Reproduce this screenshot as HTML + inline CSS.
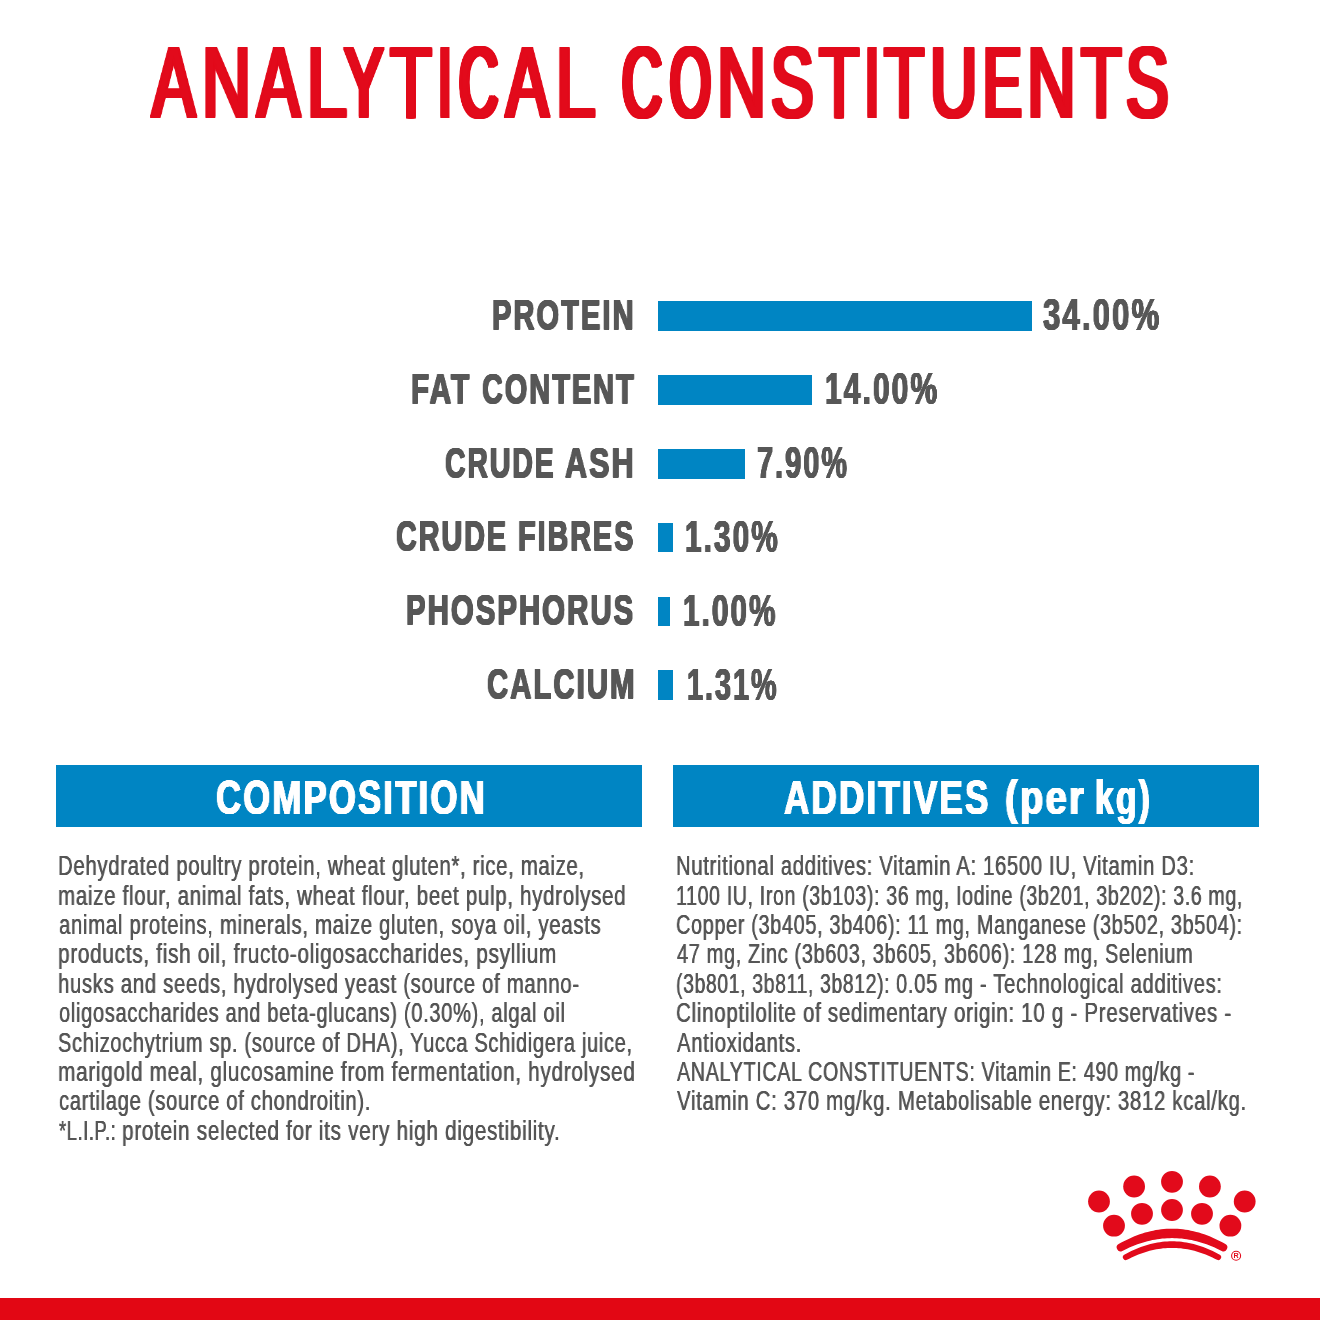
<!DOCTYPE html>
<html><head><meta charset="utf-8"><title>Analytical Constituents</title>
<style>
html,body{margin:0;padding:0;background:#fff;}
body{width:1320px;height:1320px;position:relative;overflow:hidden;font-family:"Liberation Sans",sans-serif;}
.x{position:absolute;will-change:transform;white-space:pre;line-height:1em;transform-origin:0 0;font-family:"Liberation Sans",sans-serif;}
.r{position:absolute;}
</style></head><body>
<div class="r" style="left:658px;top:301.4px;width:373.7px;height:29.5px;background:#0085c3"></div>
<div class="r" style="left:658px;top:375.1px;width:154.0px;height:29.5px;background:#0085c3"></div>
<div class="r" style="left:658px;top:449.2px;width:86.7px;height:29.5px;background:#0085c3"></div>
<div class="r" style="left:658px;top:522.6px;width:15.0px;height:29.5px;background:#0085c3"></div>
<div class="r" style="left:658px;top:596.5px;width:12.0px;height:29.5px;background:#0085c3"></div>
<div class="r" style="left:658px;top:670.2px;width:15.0px;height:29.5px;background:#0085c3"></div>
<div class="r" style="left:56px;top:764.7px;width:585.5px;height:62.8px;background:#0085c3"></div>
<div class="r" style="left:673px;top:764.7px;width:586px;height:62.8px;background:#0085c3"></div>
<div class="r" style="left:0;top:1298px;width:1320px;height:22px;background:#e20714"></div>
<h1 style="margin:0;font:inherit"><span class="x" style="left:151.95px;top:32.79px;font-size:99.711px;font-weight:400;color:#e20a1b;text-shadow:-3.14px -1.4px 0 #e20a1b,-3.14px 0px 0 #e20a1b,-3.14px 1.4px 0 #e20a1b,-1.57px -1.4px 0 #e20a1b,-1.57px 0px 0 #e20a1b,-1.57px 1.4px 0 #e20a1b,0px -1.4px 0 #e20a1b,0px 1.4px 0 #e20a1b,1.57px -1.4px 0 #e20a1b,1.57px 0px 0 #e20a1b,1.57px 1.4px 0 #e20a1b,3.14px -1.4px 0 #e20a1b,3.14px 0px 0 #e20a1b,3.14px 1.4px 0 #e20a1b;transform:scaleX(0.6507)">A</span><span class="x" style="left:201.90px;top:32.79px;font-size:99.711px;font-weight:400;color:#e20a1b;text-shadow:-2.9px -1.4px 0 #e20a1b,-2.9px 0px 0 #e20a1b,-2.9px 1.4px 0 #e20a1b,-1.45px -1.4px 0 #e20a1b,-1.45px 0px 0 #e20a1b,-1.45px 1.4px 0 #e20a1b,0px -1.4px 0 #e20a1b,0px 1.4px 0 #e20a1b,1.45px -1.4px 0 #e20a1b,1.45px 0px 0 #e20a1b,1.45px 1.4px 0 #e20a1b,2.9px -1.4px 0 #e20a1b,2.9px 0px 0 #e20a1b,2.9px 1.4px 0 #e20a1b;transform:scaleX(0.6806)">N</span><span class="x" style="left:257.24px;top:32.79px;font-size:99.711px;font-weight:400;color:#e20a1b;text-shadow:-3.19px -1.4px 0 #e20a1b,-3.19px 0px 0 #e20a1b,-3.19px 1.4px 0 #e20a1b,-1.595px -1.4px 0 #e20a1b,-1.595px 0px 0 #e20a1b,-1.595px 1.4px 0 #e20a1b,0px -1.4px 0 #e20a1b,0px 1.4px 0 #e20a1b,1.595px -1.4px 0 #e20a1b,1.595px 0px 0 #e20a1b,1.595px 1.4px 0 #e20a1b,3.19px -1.4px 0 #e20a1b,3.19px 0px 0 #e20a1b,3.19px 1.4px 0 #e20a1b;transform:scaleX(0.6466)">A</span><span class="x" style="left:306.25px;top:32.79px;font-size:99.711px;font-weight:400;color:#e20a1b;text-shadow:-2.21px -1.4px 0 #e20a1b,-2.21px 0px 0 #e20a1b,-2.21px 1.4px 0 #e20a1b,-1.105px -1.4px 0 #e20a1b,-1.105px 0px 0 #e20a1b,-1.105px 1.4px 0 #e20a1b,0px -1.4px 0 #e20a1b,0px 1.4px 0 #e20a1b,1.105px -1.4px 0 #e20a1b,1.105px 0px 0 #e20a1b,1.105px 1.4px 0 #e20a1b,2.21px -1.4px 0 #e20a1b,2.21px 0px 0 #e20a1b,2.21px 1.4px 0 #e20a1b;transform:scaleX(0.7500)">L</span><span class="x" style="left:343.69px;top:32.79px;font-size:99.711px;font-weight:400;color:#e20a1b;text-shadow:-3.86px -1.4px 0 #e20a1b,-3.86px 0px 0 #e20a1b,-3.86px 1.4px 0 #e20a1b,-1.93px -1.4px 0 #e20a1b,-1.93px 0px 0 #e20a1b,-1.93px 1.4px 0 #e20a1b,0px -1.4px 0 #e20a1b,0px 1.4px 0 #e20a1b,1.93px -1.4px 0 #e20a1b,1.93px 0px 0 #e20a1b,1.93px 1.4px 0 #e20a1b,3.86px -1.4px 0 #e20a1b,3.86px 0px 0 #e20a1b,3.86px 1.4px 0 #e20a1b;transform:scaleX(0.5957)">Y</span><span class="x" style="left:389.89px;top:32.79px;font-size:99.711px;font-weight:400;color:#e20a1b;text-shadow:-2.83px -1.4px 0 #e20a1b,-2.83px 0px 0 #e20a1b,-2.83px 1.4px 0 #e20a1b,-1.415px -1.4px 0 #e20a1b,-1.415px 0px 0 #e20a1b,-1.415px 1.4px 0 #e20a1b,0px -1.4px 0 #e20a1b,0px 1.4px 0 #e20a1b,1.415px -1.4px 0 #e20a1b,1.415px 0px 0 #e20a1b,1.415px 1.4px 0 #e20a1b,2.83px -1.4px 0 #e20a1b,2.83px 0px 0 #e20a1b,2.83px 1.4px 0 #e20a1b;transform:scaleX(0.6873)">T</span><span class="x" style="left:438.00px;top:32.79px;font-size:99.711px;font-weight:400;color:#e20a1b;text-shadow:-4.55px -1.4px 0 #e20a1b,-4.55px 0px 0 #e20a1b,-4.55px 1.4px 0 #e20a1b,-3.03333px -1.4px 0 #e20a1b,-3.03333px 0px 0 #e20a1b,-3.03333px 1.4px 0 #e20a1b,-1.51667px -1.4px 0 #e20a1b,-1.51667px 0px 0 #e20a1b,-1.51667px 1.4px 0 #e20a1b,0px -1.4px 0 #e20a1b,0px 1.4px 0 #e20a1b,1.51667px -1.4px 0 #e20a1b,1.51667px 0px 0 #e20a1b,1.51667px 1.4px 0 #e20a1b,3.03333px -1.4px 0 #e20a1b,3.03333px 0px 0 #e20a1b,3.03333px 1.4px 0 #e20a1b,4.55px -1.4px 0 #e20a1b,4.55px 0px 0 #e20a1b,4.55px 1.4px 0 #e20a1b;transform:scaleX(0.5000)">I</span><span class="x" style="left:459.20px;top:32.79px;font-size:99.711px;font-weight:400;color:#e20a1b;text-shadow:-4.83px -1.4px 0 #e20a1b,-4.83px 0px 0 #e20a1b,-4.83px 1.4px 0 #e20a1b,-3.22px -1.4px 0 #e20a1b,-3.22px 0px 0 #e20a1b,-3.22px 1.4px 0 #e20a1b,-1.61px -1.4px 0 #e20a1b,-1.61px 0px 0 #e20a1b,-1.61px 1.4px 0 #e20a1b,0px -1.4px 0 #e20a1b,0px 1.4px 0 #e20a1b,1.61px -1.4px 0 #e20a1b,1.61px 0px 0 #e20a1b,1.61px 1.4px 0 #e20a1b,3.22px -1.4px 0 #e20a1b,3.22px 0px 0 #e20a1b,3.22px 1.4px 0 #e20a1b,4.83px -1.4px 0 #e20a1b,4.83px 0px 0 #e20a1b,4.83px 1.4px 0 #e20a1b;transform:scaleX(0.5425)">C</span><span class="x" style="left:506.12px;top:32.79px;font-size:99.711px;font-weight:400;color:#e20a1b;text-shadow:-3.41px -1.4px 0 #e20a1b,-3.41px 0px 0 #e20a1b,-3.41px 1.4px 0 #e20a1b,-1.705px -1.4px 0 #e20a1b,-1.705px 0px 0 #e20a1b,-1.705px 1.4px 0 #e20a1b,0px -1.4px 0 #e20a1b,0px 1.4px 0 #e20a1b,1.705px -1.4px 0 #e20a1b,1.705px 0px 0 #e20a1b,1.705px 1.4px 0 #e20a1b,3.41px -1.4px 0 #e20a1b,3.41px 0px 0 #e20a1b,3.41px 1.4px 0 #e20a1b;transform:scaleX(0.6384)">A</span><span class="x" style="left:554.60px;top:32.79px;font-size:99.711px;font-weight:400;color:#e20a1b;text-shadow:-2.3px -1.4px 0 #e20a1b,-2.3px 0px 0 #e20a1b,-2.3px 1.4px 0 #e20a1b,-1.15px -1.4px 0 #e20a1b,-1.15px 0px 0 #e20a1b,-1.15px 1.4px 0 #e20a1b,0px -1.4px 0 #e20a1b,0px 1.4px 0 #e20a1b,1.15px -1.4px 0 #e20a1b,1.15px 0px 0 #e20a1b,1.15px 1.4px 0 #e20a1b,2.3px -1.4px 0 #e20a1b,2.3px 0px 0 #e20a1b,2.3px 1.4px 0 #e20a1b;transform:scaleX(0.7400)">L</span> <span class="x" style="left:621.70px;top:32.79px;font-size:99.711px;font-weight:400;color:#e20a1b;text-shadow:-4.67px -1.4px 0 #e20a1b,-4.67px 0px 0 #e20a1b,-4.67px 1.4px 0 #e20a1b,-3.11333px -1.4px 0 #e20a1b,-3.11333px 0px 0 #e20a1b,-3.11333px 1.4px 0 #e20a1b,-1.55667px -1.4px 0 #e20a1b,-1.55667px 0px 0 #e20a1b,-1.55667px 1.4px 0 #e20a1b,0px -1.4px 0 #e20a1b,0px 1.4px 0 #e20a1b,1.55667px -1.4px 0 #e20a1b,1.55667px 0px 0 #e20a1b,1.55667px 1.4px 0 #e20a1b,3.11333px -1.4px 0 #e20a1b,3.11333px 0px 0 #e20a1b,3.11333px 1.4px 0 #e20a1b,4.67px -1.4px 0 #e20a1b,4.67px 0px 0 #e20a1b,4.67px 1.4px 0 #e20a1b;transform:scaleX(0.5521)">C</span><span class="x" style="left:669.73px;top:32.79px;font-size:99.711px;font-weight:400;color:#e20a1b;text-shadow:-4.99px -1.4px 0 #e20a1b,-4.99px 0px 0 #e20a1b,-4.99px 1.4px 0 #e20a1b,-3.32667px -1.4px 0 #e20a1b,-3.32667px 0px 0 #e20a1b,-3.32667px 1.4px 0 #e20a1b,-1.66333px -1.4px 0 #e20a1b,-1.66333px 0px 0 #e20a1b,-1.66333px 1.4px 0 #e20a1b,0px -1.4px 0 #e20a1b,0px 1.4px 0 #e20a1b,1.66333px -1.4px 0 #e20a1b,1.66333px 0px 0 #e20a1b,1.66333px 1.4px 0 #e20a1b,3.32667px -1.4px 0 #e20a1b,3.32667px 0px 0 #e20a1b,3.32667px 1.4px 0 #e20a1b,4.99px -1.4px 0 #e20a1b,4.99px 0px 0 #e20a1b,4.99px 1.4px 0 #e20a1b;transform:scaleX(0.5266)">O</span><span class="x" style="left:717.40px;top:32.79px;font-size:99.711px;font-weight:400;color:#e20a1b;text-shadow:-2.9px -1.4px 0 #e20a1b,-2.9px 0px 0 #e20a1b,-2.9px 1.4px 0 #e20a1b,-1.45px -1.4px 0 #e20a1b,-1.45px 0px 0 #e20a1b,-1.45px 1.4px 0 #e20a1b,0px -1.4px 0 #e20a1b,0px 1.4px 0 #e20a1b,1.45px -1.4px 0 #e20a1b,1.45px 0px 0 #e20a1b,1.45px 1.4px 0 #e20a1b,2.9px -1.4px 0 #e20a1b,2.9px 0px 0 #e20a1b,2.9px 1.4px 0 #e20a1b;transform:scaleX(0.6806)">N</span><span class="x" style="left:771.06px;top:32.79px;font-size:99.711px;font-weight:400;color:#e20a1b;text-shadow:-3.4px -1.4px 0 #e20a1b,-3.4px 0px 0 #e20a1b,-3.4px 1.4px 0 #e20a1b,-1.7px -1.4px 0 #e20a1b,-1.7px 0px 0 #e20a1b,-1.7px 1.4px 0 #e20a1b,0px -1.4px 0 #e20a1b,0px 1.4px 0 #e20a1b,1.7px -1.4px 0 #e20a1b,1.7px 0px 0 #e20a1b,1.7px 1.4px 0 #e20a1b,3.4px -1.4px 0 #e20a1b,3.4px 0px 0 #e20a1b,3.4px 1.4px 0 #e20a1b;transform:scaleX(0.6385)">S</span><span class="x" style="left:818.66px;top:32.79px;font-size:99.711px;font-weight:400;color:#e20a1b;text-shadow:-3.12px -1.4px 0 #e20a1b,-3.12px 0px 0 #e20a1b,-3.12px 1.4px 0 #e20a1b,-1.56px -1.4px 0 #e20a1b,-1.56px 0px 0 #e20a1b,-1.56px 1.4px 0 #e20a1b,0px -1.4px 0 #e20a1b,0px 1.4px 0 #e20a1b,1.56px -1.4px 0 #e20a1b,1.56px 0px 0 #e20a1b,1.56px 1.4px 0 #e20a1b,3.12px -1.4px 0 #e20a1b,3.12px 0px 0 #e20a1b,3.12px 1.4px 0 #e20a1b;transform:scaleX(0.6619)">T</span><span class="x" style="left:864.58px;top:32.79px;font-size:99.711px;font-weight:400;color:#e20a1b;text-shadow:-4.46px -1.4px 0 #e20a1b,-4.46px 0px 0 #e20a1b,-4.46px 1.4px 0 #e20a1b,-2.97333px -1.4px 0 #e20a1b,-2.97333px 0px 0 #e20a1b,-2.97333px 1.4px 0 #e20a1b,-1.48667px -1.4px 0 #e20a1b,-1.48667px 0px 0 #e20a1b,-1.48667px 1.4px 0 #e20a1b,0px -1.4px 0 #e20a1b,0px 1.4px 0 #e20a1b,1.48667px -1.4px 0 #e20a1b,1.48667px 0px 0 #e20a1b,1.48667px 1.4px 0 #e20a1b,2.97333px -1.4px 0 #e20a1b,2.97333px 0px 0 #e20a1b,2.97333px 1.4px 0 #e20a1b,4.46px -1.4px 0 #e20a1b,4.46px 0px 0 #e20a1b,4.46px 1.4px 0 #e20a1b;transform:scaleX(0.5053)">I</span><span class="x" style="left:884.46px;top:32.79px;font-size:99.711px;font-weight:400;color:#e20a1b;text-shadow:-3.12px -1.4px 0 #e20a1b,-3.12px 0px 0 #e20a1b,-3.12px 1.4px 0 #e20a1b,-1.56px -1.4px 0 #e20a1b,-1.56px 0px 0 #e20a1b,-1.56px 1.4px 0 #e20a1b,0px -1.4px 0 #e20a1b,0px 1.4px 0 #e20a1b,1.56px -1.4px 0 #e20a1b,1.56px 0px 0 #e20a1b,1.56px 1.4px 0 #e20a1b,3.12px -1.4px 0 #e20a1b,3.12px 0px 0 #e20a1b,3.12px 1.4px 0 #e20a1b;transform:scaleX(0.6619)">T</span><span class="x" style="left:929.88px;top:32.79px;font-size:99.711px;font-weight:400;color:#e20a1b;text-shadow:-3.19px -1.4px 0 #e20a1b,-3.19px 0px 0 #e20a1b,-3.19px 1.4px 0 #e20a1b,-1.595px -1.4px 0 #e20a1b,-1.595px 0px 0 #e20a1b,-1.595px 1.4px 0 #e20a1b,0px -1.4px 0 #e20a1b,0px 1.4px 0 #e20a1b,1.595px -1.4px 0 #e20a1b,1.595px 0px 0 #e20a1b,1.595px 1.4px 0 #e20a1b,3.19px -1.4px 0 #e20a1b,3.19px 0px 0 #e20a1b,3.19px 1.4px 0 #e20a1b;transform:scaleX(0.6562)">U</span><span class="x" style="left:982.97px;top:32.79px;font-size:99.711px;font-weight:400;color:#e20a1b;text-shadow:-4.04px -1.4px 0 #e20a1b,-4.04px 0px 0 #e20a1b,-4.04px 1.4px 0 #e20a1b,-2.69333px -1.4px 0 #e20a1b,-2.69333px 0px 0 #e20a1b,-2.69333px 1.4px 0 #e20a1b,-1.34667px -1.4px 0 #e20a1b,-1.34667px 0px 0 #e20a1b,-1.34667px 1.4px 0 #e20a1b,0px -1.4px 0 #e20a1b,0px 1.4px 0 #e20a1b,1.34667px -1.4px 0 #e20a1b,1.34667px 0px 0 #e20a1b,1.34667px 1.4px 0 #e20a1b,2.69333px -1.4px 0 #e20a1b,2.69333px 0px 0 #e20a1b,2.69333px 1.4px 0 #e20a1b,4.04px -1.4px 0 #e20a1b,4.04px 0px 0 #e20a1b,4.04px 1.4px 0 #e20a1b;transform:scaleX(0.5825)">E</span><span class="x" style="left:1027.41px;top:32.79px;font-size:99.711px;font-weight:400;color:#e20a1b;text-shadow:-2.94px -1.4px 0 #e20a1b,-2.94px 0px 0 #e20a1b,-2.94px 1.4px 0 #e20a1b,-1.47px -1.4px 0 #e20a1b,-1.47px 0px 0 #e20a1b,-1.47px 1.4px 0 #e20a1b,0px -1.4px 0 #e20a1b,0px 1.4px 0 #e20a1b,1.47px -1.4px 0 #e20a1b,1.47px 0px 0 #e20a1b,1.47px 1.4px 0 #e20a1b,2.94px -1.4px 0 #e20a1b,2.94px 0px 0 #e20a1b,2.94px 1.4px 0 #e20a1b;transform:scaleX(0.6774)">N</span><span class="x" style="left:1080.67px;top:32.79px;font-size:99.711px;font-weight:400;color:#e20a1b;text-shadow:-3.06px -1.4px 0 #e20a1b,-3.06px 0px 0 #e20a1b,-3.06px 1.4px 0 #e20a1b,-1.53px -1.4px 0 #e20a1b,-1.53px 0px 0 #e20a1b,-1.53px 1.4px 0 #e20a1b,0px -1.4px 0 #e20a1b,0px 1.4px 0 #e20a1b,1.53px -1.4px 0 #e20a1b,1.53px 0px 0 #e20a1b,1.53px 1.4px 0 #e20a1b,3.06px -1.4px 0 #e20a1b,3.06px 0px 0 #e20a1b,3.06px 1.4px 0 #e20a1b;transform:scaleX(0.6667)">T</span><span class="x" style="left:1126.06px;top:32.79px;font-size:99.711px;font-weight:400;color:#e20a1b;text-shadow:-3.39px -1.4px 0 #e20a1b,-3.39px 0px 0 #e20a1b,-3.39px 1.4px 0 #e20a1b,-1.695px -1.4px 0 #e20a1b,-1.695px 0px 0 #e20a1b,-1.695px 1.4px 0 #e20a1b,0px -1.4px 0 #e20a1b,0px 1.4px 0 #e20a1b,1.695px -1.4px 0 #e20a1b,1.695px 0px 0 #e20a1b,1.695px 1.4px 0 #e20a1b,3.39px -1.4px 0 #e20a1b,3.39px 0px 0 #e20a1b,3.39px 1.4px 0 #e20a1b;transform:scaleX(0.6400)">S</span></h1>
<div class="x" style="left:492.32px;top:293.18px;font-size:43.024px;font-weight:700;color:#575757;letter-spacing:3.0px;text-shadow:-0.8px -0.5px 0 #575757,-0.8px 0px 0 #575757,-0.8px 0.5px 0 #575757,0px -0.5px 0 #575757,0px 0.5px 0 #575757,0.8px -0.5px 0 #575757,0.8px 0px 0 #575757,0.8px 0.5px 0 #575757;transform:scaleX(0.6763)">PROTEIN</div>
<div class="x" style="left:1043.00px;top:292.56px;font-size:43.751px;font-weight:700;color:#575757;letter-spacing:3.0px;text-shadow:-0.65px -0.1px 0 #575757,-0.65px 0px 0 #575757,-0.65px 0.1px 0 #575757,0px -0.1px 0 #575757,0px 0.1px 0 #575757,0.65px -0.1px 0 #575757,0.65px 0px 0 #575757,0.65px 0.1px 0 #575757;transform:scaleX(0.7110)">34.00%</div>
<div class="x" style="left:411.31px;top:366.88px;font-size:43.024px;font-weight:700;color:#575757;letter-spacing:3.0px;text-shadow:-0.8px -0.5px 0 #575757,-0.8px 0px 0 #575757,-0.8px 0.5px 0 #575757,0px -0.5px 0 #575757,0px 0.5px 0 #575757,0.8px -0.5px 0 #575757,0.8px 0px 0 #575757,0.8px 0.5px 0 #575757;transform:scaleX(0.6929)">FAT</div>
<div class="x" style="left:481.60px;top:366.88px;font-size:43.024px;font-weight:700;color:#575757;letter-spacing:3.0px;text-shadow:-0.8px -0.5px 0 #575757,-0.8px 0px 0 #575757,-0.8px 0.5px 0 #575757,0px -0.5px 0 #575757,0px 0.5px 0 #575757,0.8px -0.5px 0 #575757,0.8px 0px 0 #575757,0.8px 0.5px 0 #575757;transform:scaleX(0.6714)">CONTENT</div>
<div class="x" style="left:825.11px;top:366.56px;font-size:43.751px;font-weight:700;color:#575757;letter-spacing:3.0px;text-shadow:-0.65px -0.1px 0 #575757,-0.65px 0px 0 #575757,-0.65px 0.1px 0 #575757,0px -0.1px 0 #575757,0px 0.1px 0 #575757,0.65px -0.1px 0 #575757,0.65px 0px 0 #575757,0.65px 0.1px 0 #575757;transform:scaleX(0.6859)">14.00%</div>
<div class="x" style="left:445.20px;top:440.98px;font-size:43.024px;font-weight:700;color:#575757;letter-spacing:3.0px;text-shadow:-0.8px -0.5px 0 #575757,-0.8px 0px 0 #575757,-0.8px 0.5px 0 #575757,0px -0.5px 0 #575757,0px 0.5px 0 #575757,0.8px -0.5px 0 #575757,0.8px 0px 0 #575757,0.8px 0.5px 0 #575757;transform:scaleX(0.6588)">CRUDE</div>
<div class="x" style="left:565.30px;top:440.98px;font-size:43.024px;font-weight:700;color:#575757;letter-spacing:3.0px;text-shadow:-0.8px -0.5px 0 #575757,-0.8px 0px 0 #575757,-0.8px 0.5px 0 #575757,0px -0.5px 0 #575757,0px 0.5px 0 #575757,0.8px -0.5px 0 #575757,0.8px 0px 0 #575757,0.8px 0.5px 0 #575757;transform:scaleX(0.7083)">ASH</div>
<div class="x" style="left:757.00px;top:440.56px;font-size:43.751px;font-weight:700;color:#575757;letter-spacing:3.0px;text-shadow:-0.65px -0.1px 0 #575757,-0.65px 0px 0 #575757,-0.65px 0.1px 0 #575757,0px -0.1px 0 #575757,0px 0.1px 0 #575757,0.65px -0.1px 0 #575757,0.65px 0px 0 #575757,0.65px 0.1px 0 #575757;transform:scaleX(0.6618)">7.90%</div>
<div class="x" style="left:396.00px;top:514.38px;font-size:43.024px;font-weight:700;color:#575757;letter-spacing:3.0px;text-shadow:-0.8px -0.5px 0 #575757,-0.8px 0px 0 #575757,-0.8px 0.5px 0 #575757,0px -0.5px 0 #575757,0px 0.5px 0 #575757,0.8px -0.5px 0 #575757,0.8px 0px 0 #575757,0.8px 0.5px 0 #575757;transform:scaleX(0.6671)">CRUDE FIBRES</div>
<div class="x" style="left:685.32px;top:514.56px;font-size:43.751px;font-weight:700;color:#575757;letter-spacing:3.0px;text-shadow:-0.65px -0.1px 0 #575757,-0.65px 0px 0 #575757,-0.65px 0.1px 0 #575757,0px -0.1px 0 #575757,0px 0.1px 0 #575757,0.65px -0.1px 0 #575757,0.65px 0px 0 #575757,0.65px 0.1px 0 #575757;transform:scaleX(0.6815)">1.30%</div>
<div class="x" style="left:406.32px;top:588.28px;font-size:43.024px;font-weight:700;color:#575757;letter-spacing:3.0px;text-shadow:-0.8px -0.5px 0 #575757,-0.8px 0px 0 #575757,-0.8px 0.5px 0 #575757,0px -0.5px 0 #575757,0px 0.5px 0 #575757,0.8px -0.5px 0 #575757,0.8px 0px 0 #575757,0.8px 0.5px 0 #575757;transform:scaleX(0.6822)">PHOSPHORUS</div>
<div class="x" style="left:682.62px;top:588.56px;font-size:43.751px;font-weight:700;color:#575757;letter-spacing:3.0px;text-shadow:-0.65px -0.1px 0 #575757,-0.65px 0px 0 #575757,-0.65px 0.1px 0 #575757,0px -0.1px 0 #575757,0px 0.1px 0 #575757,0.65px -0.1px 0 #575757,0.65px 0px 0 #575757,0.65px 0.1px 0 #575757;transform:scaleX(0.6793)">1.00%</div>
<div class="x" style="left:487.00px;top:661.98px;font-size:43.024px;font-weight:700;color:#575757;letter-spacing:3.0px;text-shadow:-0.8px -0.5px 0 #575757,-0.8px 0px 0 #575757,-0.8px 0.5px 0 #575757,0px -0.5px 0 #575757,0px 0.5px 0 #575757,0.8px -0.5px 0 #575757,0.8px 0px 0 #575757,0.8px 0.5px 0 #575757;transform:scaleX(0.6814)">CALCIUM</div>
<div class="x" style="left:686.84px;top:662.56px;font-size:43.751px;font-weight:700;color:#575757;letter-spacing:3.0px;text-shadow:-0.65px -0.1px 0 #575757,-0.65px 0px 0 #575757,-0.65px 0.1px 0 #575757,0px -0.1px 0 #575757,0px 0.1px 0 #575757,0.65px -0.1px 0 #575757,0.65px 0px 0 #575757,0.65px 0.1px 0 #575757;transform:scaleX(0.6578)">1.31%</div>
<div class="x" style="left:216.00px;top:774.27px;font-size:47.530px;font-weight:700;color:#ffffff;letter-spacing:3.0px;text-shadow:-0.8px -0.4px 0 #ffffff,-0.8px 0px 0 #ffffff,-0.8px 0.4px 0 #ffffff,0px -0.4px 0 #ffffff,0px 0.4px 0 #ffffff,0.8px -0.4px 0 #ffffff,0.8px 0px 0 #ffffff,0.8px 0.4px 0 #ffffff;transform:scaleX(0.7302)">COMPOSITION</div>
<div class="x" style="left:784.00px;top:774.47px;font-size:47.530px;font-weight:700;color:#ffffff;letter-spacing:3.0px;text-shadow:-0.8px -0.4px 0 #ffffff,-0.8px 0px 0 #ffffff,-0.8px 0.4px 0 #ffffff,0px -0.4px 0 #ffffff,0px 0.4px 0 #ffffff,0.8px -0.4px 0 #ffffff,0.8px 0px 0 #ffffff,0.8px 0.4px 0 #ffffff;transform:scaleX(0.7365)">ADDITIVES</div>
<div class="x" style="left:1005.20px;top:774.47px;font-size:47.530px;font-weight:700;color:#ffffff;letter-spacing:3.0px;text-shadow:-0.8px -0.4px 0 #ffffff,-0.8px 0px 0 #ffffff,-0.8px 0.4px 0 #ffffff,0px -0.4px 0 #ffffff,0px 0.4px 0 #ffffff,0.8px -0.4px 0 #ffffff,0.8px 0px 0 #ffffff,0.8px 0.4px 0 #ffffff;transform:scaleX(0.7980)">(per</div>
<div class="x" style="left:1095.29px;top:774.47px;font-size:47.530px;font-weight:700;color:#ffffff;letter-spacing:3.0px;text-shadow:-0.8px -0.4px 0 #ffffff,-0.8px 0px 0 #ffffff,-0.8px 0.4px 0 #ffffff,0px -0.4px 0 #ffffff,0px 0.4px 0 #ffffff,0.8px -0.4px 0 #ffffff,0.8px 0px 0 #ffffff,0.8px 0.4px 0 #ffffff;transform:scaleX(0.7105)">kg)</div>
<div class="x" style="left:58.26px;top:852.12px;font-size:27.617px;font-weight:400;color:#565656;letter-spacing:0.9px;text-shadow:-0.35px 0px 0 #565656,0.35px 0px 0 #565656;transform:scaleX(0.7377)">Dehydrated poultry protein, wheat gluten*, rice, maize,</div>
<div class="x" style="left:58.26px;top:881.54px;font-size:27.617px;font-weight:400;color:#565656;letter-spacing:0.9px;text-shadow:-0.35px 0px 0 #565656,0.35px 0px 0 #565656;transform:scaleX(0.7447)">maize flour, animal fats, wheat flour, beet pulp, hydrolysed</div>
<div class="x" style="left:59.00px;top:910.96px;font-size:27.617px;font-weight:400;color:#565656;letter-spacing:0.9px;text-shadow:-0.35px 0px 0 #565656,0.35px 0px 0 #565656;transform:scaleX(0.7387)">animal proteins, minerals, maize gluten, soya oil, yeasts</div>
<div class="x" style="left:58.25px;top:940.38px;font-size:27.617px;font-weight:400;color:#565656;letter-spacing:0.9px;text-shadow:-0.35px 0px 0 #565656,0.35px 0px 0 #565656;transform:scaleX(0.7542)">products, fish oil, fructo-oligosaccharides, psyllium</div>
<div class="x" style="left:58.26px;top:969.80px;font-size:27.617px;font-weight:400;color:#565656;letter-spacing:0.9px;text-shadow:-0.35px 0px 0 #565656,0.35px 0px 0 #565656;transform:scaleX(0.7376)">husks and seeds, hydrolysed yeast (source of manno-</div>
<div class="x" style="left:59.00px;top:999.22px;font-size:27.617px;font-weight:400;color:#565656;letter-spacing:0.9px;text-shadow:-0.35px 0px 0 #565656,0.35px 0px 0 #565656;transform:scaleX(0.7284)">oligosaccharides and beta-glucans) (0.30%), algal oil</div>
<div class="x" style="left:58.27px;top:1028.64px;font-size:27.617px;font-weight:400;color:#565656;letter-spacing:0.9px;text-shadow:-0.35px 0px 0 #565656,0.35px 0px 0 #565656;transform:scaleX(0.7268)">Schizochytrium sp. (source of DHA), Yucca Schidigera juice,</div>
<div class="x" style="left:58.25px;top:1058.06px;font-size:27.617px;font-weight:400;color:#565656;letter-spacing:0.9px;text-shadow:-0.35px 0px 0 #565656,0.35px 0px 0 #565656;transform:scaleX(0.7529)">marigold meal, glucosamine from fermentation, hydrolysed</div>
<div class="x" style="left:59.00px;top:1087.48px;font-size:27.617px;font-weight:400;color:#565656;letter-spacing:0.9px;text-shadow:-0.35px 0px 0 #565656,0.35px 0px 0 #565656;transform:scaleX(0.7340)">cartilage (source of chondroitin).</div>
<div class="x" style="left:58.50px;top:1116.90px;font-size:27.617px;font-weight:400;color:#565656;letter-spacing:0.9px;text-shadow:-0.35px 0px 0 #565656,0.35px 0px 0 #565656;transform:scaleX(0.6631)">*L.I.P.:</div>
<div class="x" style="left:121.75px;top:1116.90px;font-size:27.617px;font-weight:400;color:#565656;letter-spacing:0.9px;text-shadow:-0.35px 0px 0 #565656,0.35px 0px 0 #565656;transform:scaleX(0.7530)">protein selected for its very high digestibility.</div>
<div class="x" style="left:675.77px;top:852.12px;font-size:27.617px;font-weight:400;color:#565656;letter-spacing:0.9px;text-shadow:-0.35px 0px 0 #565656,0.35px 0px 0 #565656;transform:scaleX(0.7340)">Nutritional additives: Vitamin A: 16500 IU, Vitamin D3:</div>
<div class="x" style="left:675.79px;top:881.54px;font-size:27.617px;font-weight:400;color:#565656;letter-spacing:0.9px;text-shadow:-0.35px 0px 0 #565656,0.35px 0px 0 #565656;transform:scaleX(0.7092)">1100 IU, Iron (3b103): 36 mg, Iodine (3b201, 3b202): 3.6 mg,</div>
<div class="x" style="left:675.78px;top:910.96px;font-size:27.617px;font-weight:400;color:#565656;letter-spacing:0.9px;text-shadow:-0.35px 0px 0 #565656,0.35px 0px 0 #565656;transform:scaleX(0.7200)">Copper (3b405, 3b406): 11 mg, Manganese (3b502, 3b504):</div>
<div class="x" style="left:676.50px;top:940.38px;font-size:27.617px;font-weight:400;color:#565656;letter-spacing:0.9px;text-shadow:-0.35px 0px 0 #565656,0.35px 0px 0 #565656;transform:scaleX(0.7220)">47 mg, Zinc (3b603, 3b605, 3b606): 128 mg, Selenium</div>
<div class="x" style="left:675.80px;top:969.80px;font-size:27.617px;font-weight:400;color:#565656;letter-spacing:0.9px;text-shadow:-0.35px 0px 0 #565656,0.35px 0px 0 #565656;transform:scaleX(0.7027)">(3b801, 3b811, 3b812):</div>
<div class="x" style="left:895.80px;top:969.80px;font-size:27.617px;font-weight:400;color:#565656;letter-spacing:0.9px;text-shadow:-0.35px 0px 0 #565656,0.35px 0px 0 #565656;transform:scaleX(0.7324)">0.05 mg - Technological additives:</div>
<div class="x" style="left:675.75px;top:999.22px;font-size:27.617px;font-weight:400;color:#565656;letter-spacing:0.9px;text-shadow:-0.35px 0px 0 #565656,0.35px 0px 0 #565656;transform:scaleX(0.7466)">Clinoptilolite of sedimentary origin: 10 g - Preservatives -</div>
<div class="x" style="left:676.50px;top:1028.64px;font-size:27.617px;font-weight:400;color:#565656;letter-spacing:0.9px;text-shadow:-0.35px 0px 0 #565656,0.35px 0px 0 #565656;transform:scaleX(0.7365)">Antioxidants.</div>
<div class="x" style="left:676.50px;top:1058.06px;font-size:27.617px;font-weight:400;color:#565656;letter-spacing:0.9px;text-shadow:-0.35px 0px 0 #565656,0.35px 0px 0 #565656;transform:scaleX(0.7151)">ANALYTICAL CONSTITUENTS: Vitamin E: 490 mg/kg -</div>
<div class="x" style="left:676.50px;top:1087.48px;font-size:27.617px;font-weight:400;color:#565656;letter-spacing:0.9px;text-shadow:-0.35px 0px 0 #565656,0.35px 0px 0 #565656;transform:scaleX(0.7396)">Vitamin C: 370 mg/kg. Metabolisable energy: 3812 kcal/kg.</div>
<svg class="r" style="left:0;top:0" width="1320" height="1320" viewBox="0 0 1320 1320">
<g fill="#e20a1b">
<circle cx="1099.0" cy="1201.5" r="10.9"/>
<circle cx="1134.1" cy="1186.5" r="10.9"/>
<circle cx="1172.0" cy="1181.8" r="10.9"/>
<circle cx="1209.9" cy="1186.5" r="10.9"/>
<circle cx="1244.7" cy="1201.5" r="10.9"/>
<circle cx="1114.0" cy="1225.7" r="10.9"/>
<circle cx="1142.0" cy="1213.8" r="10.9"/>
<circle cx="1172.0" cy="1210.0" r="10.9"/>
<circle cx="1202.0" cy="1213.8" r="10.9"/>
<circle cx="1230.4" cy="1225.7" r="10.9"/>
<path d="M1122.37 1250.92L1124.90 1249.64L1127.43 1248.43L1129.95 1247.29L1132.46 1246.22L1134.97 1245.22L1137.48 1244.29L1139.97 1243.43L1142.46 1242.63L1144.95 1241.90L1147.43 1241.23L1149.90 1240.63L1152.37 1240.10L1154.84 1239.63L1157.30 1239.22L1159.75 1238.88L1162.21 1238.60L1164.66 1238.38L1167.11 1238.22L1169.55 1238.13L1172.00 1238.10L1174.45 1238.13L1176.89 1238.22L1179.34 1238.38L1181.79 1238.60L1184.25 1238.88L1186.70 1239.22L1189.16 1239.63L1191.63 1240.10L1194.10 1240.63L1196.57 1241.23L1199.05 1241.90L1201.54 1242.63L1204.03 1243.43L1206.52 1244.29L1209.03 1245.22L1211.54 1246.22L1214.05 1247.29L1216.57 1248.43L1219.10 1249.64L1221.63 1250.92A3.90 3.90 0 0 0 1225.37 1244.08L1222.75 1242.61L1220.13 1241.21L1217.50 1239.88L1214.86 1238.63L1212.22 1237.44L1209.58 1236.33L1206.92 1235.29L1204.26 1234.32L1201.60 1233.43L1198.93 1232.62L1196.25 1231.88L1193.57 1231.21L1190.89 1230.63L1188.20 1230.12L1185.50 1229.69L1182.81 1229.33L1180.11 1229.06L1177.41 1228.86L1174.70 1228.74L1172.00 1228.70L1169.30 1228.74L1166.59 1228.86L1163.89 1229.06L1161.19 1229.33L1158.50 1229.69L1155.80 1230.12L1153.11 1230.63L1150.43 1231.21L1147.75 1231.88L1145.07 1232.62L1142.40 1233.43L1139.74 1234.32L1137.08 1235.29L1134.42 1236.33L1131.78 1237.44L1129.14 1238.63L1126.50 1239.88L1123.87 1241.21L1121.25 1242.61L1118.63 1244.08A3.90 3.90 0 0 0 1122.37 1250.92Z"/>
<path d="M1126.99 1259.84L1129.27 1258.66L1131.55 1257.54L1133.82 1256.49L1136.09 1255.50L1138.36 1254.57L1140.62 1253.70L1142.88 1252.89L1145.14 1252.15L1147.39 1251.47L1149.64 1250.84L1151.89 1250.28L1154.13 1249.78L1156.37 1249.34L1158.61 1248.96L1160.84 1248.63L1163.08 1248.37L1165.31 1248.16L1167.54 1248.02L1169.77 1247.93L1172.00 1247.90L1174.23 1247.93L1176.46 1248.02L1178.69 1248.16L1180.92 1248.37L1183.16 1248.63L1185.39 1248.96L1187.63 1249.34L1189.87 1249.78L1192.11 1250.28L1194.36 1250.84L1196.61 1251.47L1198.86 1252.15L1201.12 1252.89L1203.38 1253.70L1205.64 1254.57L1207.91 1255.50L1210.18 1256.49L1212.45 1257.54L1214.73 1258.66L1217.01 1259.84A2.90 2.90 0 0 0 1219.79 1254.76L1217.43 1253.46L1215.07 1252.23L1212.70 1251.06L1210.33 1249.96L1207.96 1248.92L1205.58 1247.95L1203.20 1247.04L1200.82 1246.19L1198.43 1245.42L1196.04 1244.71L1193.65 1244.06L1191.25 1243.48L1188.85 1242.97L1186.45 1242.53L1184.04 1242.15L1181.64 1241.85L1179.23 1241.61L1176.82 1241.44L1174.41 1241.33L1172.00 1241.30L1169.59 1241.33L1167.18 1241.44L1164.77 1241.61L1162.36 1241.85L1159.96 1242.15L1157.55 1242.53L1155.15 1242.97L1152.75 1243.48L1150.35 1244.06L1147.96 1244.71L1145.57 1245.42L1143.18 1246.19L1140.80 1247.04L1138.42 1247.95L1136.04 1248.92L1133.67 1249.96L1131.30 1251.06L1128.93 1252.23L1126.57 1253.46L1124.21 1254.76A2.90 2.90 0 0 0 1126.99 1259.84Z"/>
</g>
<circle cx="1236.1" cy="1255.7" r="4.5" fill="none" stroke="#e20a1b" stroke-width="1.1"/>
<text x="1236.2" y="1258.3" text-anchor="middle" font-family="Liberation Sans, sans-serif" font-weight="700" font-size="7.2" fill="#e20a1b">R</text>
</svg>
</body></html>
